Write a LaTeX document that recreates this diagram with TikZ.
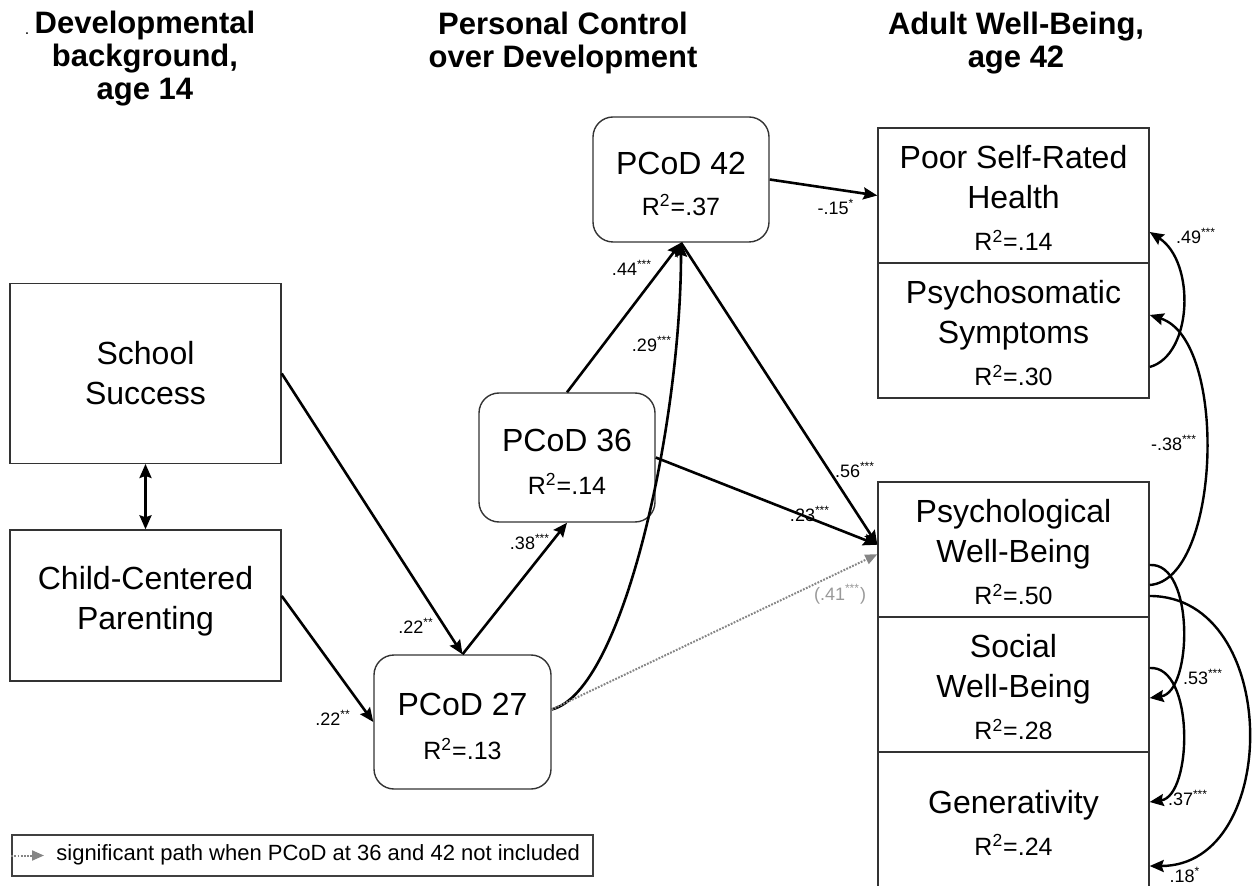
\documentclass[tikz,border=0pt]{standalone}
\usepackage{fontspec}
\setmainfont{Liberation Sans}
\usetikzlibrary{arrows.meta,calc}
\newcommand{\rsq}[1]{{\fontsize{12.5}{15}\selectfont R\textsuperscript{2}=#1}}
\newcommand{\sig}[1]{\textsuperscript{#1}}
\newcommand{\topgap}[1]{\rule{0pt}{#1}}
\definecolor{pathgray}{HTML}{858585}
\definecolor{labgray}{HTML}{999999}
\begin{document}
\begin{tikzpicture}[x=0.5pt,y=-0.5pt,
  >={Stealth[length=7pt,width=6pt,inset=1pt]},
  box/.style={draw=black!80, line width=0.7pt, inner sep=0pt, align=center, font=\fontsize{16}{20}\selectfont},
  rbox/.style={box, rounded corners=10pt},
  wbox/.style={box, minimum width=135.5pt, minimum height=67.5pt},
  hdr/.style={align=center, inner sep=0pt, font=\bfseries\fontsize{15.5}{16.5}\selectfont},
  coef/.style={font=\fontsize{9}{10}\selectfont, inner sep=0pt},
  path/.style={line width=1.3pt, ->},
  cov/.style={line width=1.2pt, ->},
  gpath/.style={draw=pathgray, line width=1pt, dash pattern=on 0.9pt off 0.7pt, -{Triangle[length=6pt,width=5pt]}}]
\useasboundingbox (0,0) rectangle (1256,886);

% headers
\node[hdr] (h1) at (145,59) {Developmental\\background,\\age 14};
\node[font=\fontsize{8}{9}\selectfont, inner sep=0pt] (dot) at (27,34) {.};
\node[hdr] (h2) at (563,43) {Personal Control\\over Development};
\node[hdr] (h3) at (1016,43) {Adult Well-Being,\\age 42};

% boxes
\node[box, minimum width=135.5pt, minimum height=89.75pt] (school) at (145.5,373.5) {School\\Success};
\node[box, minimum width=135.5pt, minimum height=75.5pt] (child) at (145.5,605.5) {Child-Centered\\Parenting\rule[-7.5pt]{0pt}{7.5pt}};
\node[rbox, minimum width=88pt, minimum height=62.5pt] (p42) at (681,179.5) {\topgap{15.7pt}PCoD 42\\[0.5pt]\rsq{.37}};
\node[rbox, minimum width=88pt, minimum height=64.5pt] (p36) at (567,457.5) {\topgap{15.7pt}PCoD 36\\[1.5pt]\rsq{.14}};
\node[rbox, minimum width=88.5pt, minimum height=67pt] (p27) at (462.5,722) {\topgap{15.7pt}PCoD 27\\[2pt]\rsq{.13}};

\node[wbox] (poor) at (1013.5,195.5) {\topgap{14.5pt}Poor Self-Rated\\Health\\[1pt]\rsq{.14}};
\node[wbox] (psom) at (1013.5,330.5) {\topgap{14.5pt}Psychosomatic\\Symptoms\\[1pt]\rsq{.30}};
\node[wbox] (pwb) at (1013.5,549.5) {\topgap{14.5pt}Psychological\\Well-Being\\[1pt]\rsq{.50}};
\node[wbox] (swb) at (1013.5,684.5) {\topgap{14.5pt}Social\\Well-Being\\[1pt]\rsq{.28}};
\node[wbox] (gen) at (1013.5,819.5) {\topgap{14.5pt}Generativity\\[1pt]\rsq{.24}};

% paths
\draw[line width=1.3pt, <->] (school.south) -- (child.north);
\draw[path] (school.east) -- (p27.north);
\draw[path] (child.4) -- (p27.west);
\draw[path] (p27.north) -- (p36.south);
\draw[path] (p36.north) -- (p42.south);
\draw[path] (p27.8) .. controls +(72,-18) and +(0,180) .. (p42.south);
\draw[gpath] (p27.8) -- (pwb.182);
\draw[path] (p42.south) -- (pwb.178);
\draw[path] (p36.east) -- (pwb.178);
\draw[path] (p42.east) -- (poor.west);

% covariances
\draw[cov] ($(psom.east)+(0,36.5)$) .. controls +(43,-12) and +(46,30) .. ($(poor.east)+(0,36.5)$);
\draw[cov] ($(pwb.east)+(0,35.5)$) .. controls +(71,-5) and +(79,25) .. ($(psom.east)+(0,-15.5)$);
\draw[cov] ($(pwb.east)+(0,15.5)$) .. controls +(45,-3) and +(43,-6) .. ($(swb.east)+(0,13.5)$);
\draw[cov] ($(swb.east)+(0,-16.5)$) .. controls +(45,-3) and +(43,-6) .. ($(gen.east)+(0,-17.5)$);
\draw[cov] ($(pwb.east)+(0,46.5)$) .. controls +(132,0) and +(132,0) .. ($(gen.east)+(0,46.5)$);

% coefficients
\node[coef] (c1) at (416,626) {.22\sig{**}};
\node[coef] (c2) at (333,718) {.22\sig{**}};
\node[coef] (c3) at (530,542) {.38\sig{***}};
\node[coef] (c4) at (632,268) {.44\sig{***}};
\node[coef] (c5) at (652,344) {.29\sig{***}};
\node[coef] (c6) at (855,470) {.56\sig{***}};
\node[coef] (c7) at (810,514) {.23\sig{***}};
\node[coef, text=labgray] (c8) at (840,594) {(.41\sig{***})};
\node[coef] (c9) at (836,207) {-.15\sig{*}};
\node[coef] (c10) at (1196,236) {.49\sig{***}};
\node[coef] (c11) at (1174,443) {-.38\sig{***}};
\node[coef] (c12) at (1203,677) {.53\sig{***}};
\node[coef] (c13) at (1188,798) {.37\sig{***}};
\node[coef] (c14) at (1185,875) {.18\sig{*}};

% legend
\node[draw=black!75, line width=0.75pt, minimum width=290.5pt, minimum height=20.5pt, inner sep=0pt] (leg) at (302.5,855.5) {};
\node[anchor=west, font=\fontsize{11}{13}\selectfont, inner sep=0pt] (legtxt) at (56,855) {significant path when PCoD at 36 and 42 not included};
\coordinate (legA) at (44,855.5);
\draw[gpath] (leg.west) -- (legA);
\end{tikzpicture}
\end{document}
